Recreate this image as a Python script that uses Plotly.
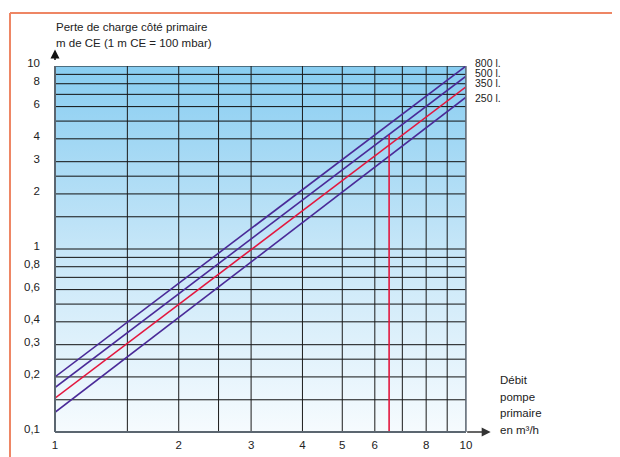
import plotly.graph_objects as go

# ---- data ----
flow = [1, 10]  # m3/h, ends of each line
series_names = ["800 l.", "500 l.", "350 l.", "250 l."]
series_values = {
    "800 l.": [0.200, 10.0],
    "500 l.": [0.175, 8.8],
    "350 l.": [0.153, 7.7],
    "250 l.": [0.128, 6.75],
}
series_colors = {"800 l.": "#4a2a98", "500 l.": "#4a2a98", "350 l.": "#e3173e", "250 l.": "#4a2a98"}
marker_flow = [6.5, 6.5]
marker_loss = [0.1, 4.2]

y_grid = [0.1, 0.15, 0.2, 0.25, 0.3, 0.4, 0.5, 0.6, 0.7, 0.8, 0.9, 1, 1.5, 2, 2.5, 3, 4, 5, 6, 7, 8, 9, 10]
y_labels = ["0,1", "", "0,2", "", "0,3", "0,4", "", "0,6", "", "0,8", "", "1", "", "2", "", "3", "4", "", "6", "", "8", "", "10"]
x_grid = [1, 1.5, 2, 2.5, 3, 4, 5, 6, 7, 8, 9, 10]
x_labels = ["1", "", "2", "", "3", "4", "5", "6", "", "8", "", "10"]

FONT = "Liberation Sans"
TXT = "#222222"

fig = go.Figure()

# gradient background
fig.add_trace(go.Scatter(
    x=[1, 10, 10, 1, 1], y=[0.1, 0.1, 10, 10, 0.1], mode="lines",
    line=dict(width=0), fill="toself",
    fillgradient=dict(type="vertical", colorscale=[[0, "#f6fbfe"], [0.5, "#c6e6f8"], [1, "#88cdf1"]]),
    hoverinfo="skip", showlegend=False))

# grid lines
gx, gy = [], []
for v in y_grid:
    gx += [1, 10, None]
    gy += [v, v, None]
fig.add_trace(go.Scatter(x=gx, y=gy, mode="lines", line=dict(color="#111111", width=1),
                         hoverinfo="skip", showlegend=False))
vx, vy = [], []
for v in x_grid:
    vx += [v, v, None]
    vy += [0.1, 10, None]
fig.add_trace(go.Scatter(x=vx, y=vy, mode="lines", line=dict(color="#1a1a1a", width=1),
                         hoverinfo="skip", showlegend=False))

# series lines
for name in series_names:
    fig.add_trace(go.Scatter(x=flow, y=series_values[name], mode="lines",
                             line=dict(color=series_colors[name], width=1.6),
                             showlegend=False, name=name))
fig.add_trace(go.Scatter(x=marker_flow, y=marker_loss, mode="lines",
                         line=dict(color="#e3173e", width=1.6), showlegend=False))

fig.update_xaxes(type="log", range=[0, 1], tickvals=x_grid, ticktext=x_labels,
                 showgrid=False, zeroline=False, showline=False, ticks="",
                 tickfont=dict(family=FONT, size=11.5, color=TXT), ticklabelstandoff=4)
fig.update_yaxes(type="log", range=[-1, 1], tickvals=y_grid, ticktext=y_labels,
                 showgrid=False, zeroline=False, showline=False, ticks="",
                 tickfont=dict(family=FONT, size=11.5, color=TXT), ticklabelstandoff=14,
                 ticklabelshift=-3)

shapes = [
    # axes
    dict(type="line", xref="paper", yref="paper", x0=0, x1=0, y0=0, y1=1, line=dict(color="#5b6670", width=2)),
    dict(type="line", xref="paper", yref="paper", x0=0, x1=1, y0=0, y1=0, line=dict(color="#5b6670", width=2)),
    dict(type="line", xref="paper", yref="paper", x0=1, x1=1, y0=0, y1=1, line=dict(color="#6a7580", width=1.5)),
    # orange frame
    dict(type="line", xref="paper", yref="paper", x0=-0.1095, x1=-0.1095, y0=-0.1, y1=1.1448,
         line=dict(color="#ee8664", width=2)),
    dict(type="line", xref="paper", yref="paper", x0=-0.1095, x1=1.4, y0=1.1448, y1=1.1448,
         line=dict(color="#ee8664", width=2)),
]
fig.update_layout(shapes=shapes)

ann = []
def txt(x, y, s, size=11.5):
    ann.append(dict(xref="paper", yref="paper", x=x, y=y, text=s, showarrow=False,
                    xanchor="left", yanchor="middle", font=dict(family=FONT, size=size, color=TXT)))

txt(-0.002, 1.107, "Perte de charge côté primaire")
txt(-0.002, 1.062, "m de CE (1 m CE = 100 mbar)")
for name, py in zip(series_names, [62.5, 72.7, 83, 98]):
    txt(1.017, (432 - py) / 366, name, size=10.5)
for s, py in zip(["Débit", "pompe", "primaire", "en m³/h"], [380, 397, 413, 430]):
    txt(1.078, (432 - py) / 366, s)

# arrows
ann.append(dict(xref="paper", yref="paper", x=0, y=1.045, ax=0, ay=12,
                showarrow=True, arrowhead=2, arrowsize=1.2, arrowwidth=1.5, arrowcolor="#111111", text=""))
ann.append(dict(xref="paper", yref="paper", x=1.06, y=0, ax=-25, ay=0,
                showarrow=True, arrowhead=2, arrowsize=1.2, arrowwidth=1.5, arrowcolor="#333333", text=""))
fig.update_layout(annotations=ann)

fig.update_layout(
    width=620, height=457,
    margin=dict(l=47, r=162, t=58, b=33),
    paper_bgcolor="white", plot_bgcolor="white",
    showlegend=False,
)
fig.write_html("out.html")
